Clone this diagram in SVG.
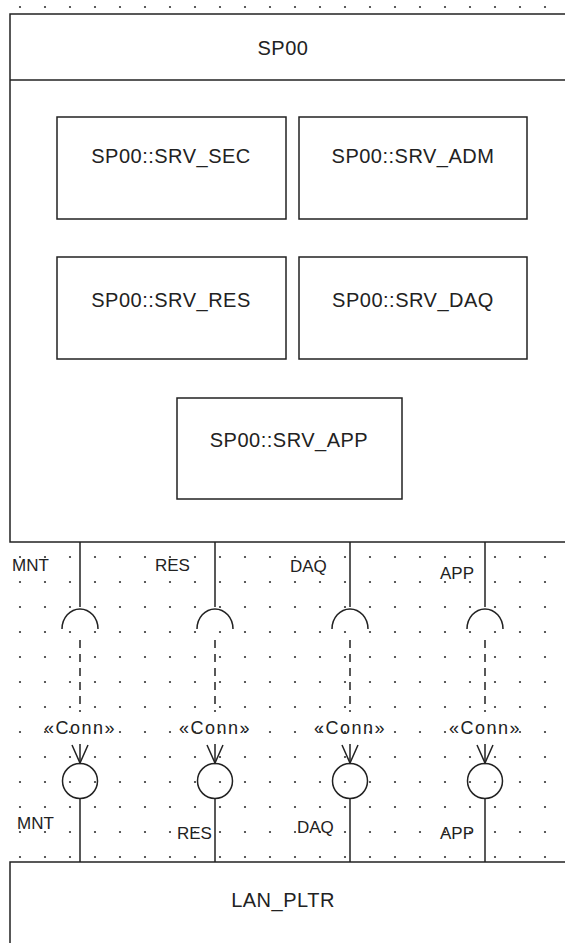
<svg xmlns="http://www.w3.org/2000/svg" width="565" height="943" viewBox="0 0 565 943">
<style>
.box{fill:none;stroke:#222;stroke-width:1.5}
.part{fill:#fff;stroke:#222;stroke-width:1.5}
.t{font-family:"Liberation Sans",Arial,sans-serif;font-size:20px;fill:#222;text-anchor:middle;letter-spacing:0.5px}
.lbl{font-family:"Liberation Sans",Arial,sans-serif;font-size:17px;fill:#222}
.st{font-family:"Liberation Sans",Arial,sans-serif;font-size:18px;fill:#222;text-anchor:middle;letter-spacing:1.5px}
.ln{fill:none;stroke:#222;stroke-width:1.5}
.dash{fill:none;stroke:#222;stroke-width:1.5;stroke-dasharray:8 6}
</style>
<defs>
<pattern id="grid" x="0" y="0" width="25" height="25" patternUnits="userSpaceOnUse">
<circle cx="20" cy="7" r="1.1" fill="#333"/>
</pattern>
</defs>
<rect width="565" height="943" fill="#fff"/>
<rect x="0" y="0" width="565" height="12" fill="url(#grid)"/>
<rect x="0" y="545" width="565" height="315" fill="url(#grid)"/>

<g id="SP00">
<rect class="box" x="10" y="14" width="600" height="528"/>
<line class="ln" x1="10" y1="80" x2="565" y2="80"/>
<text class="t" x="283" y="55">SP00</text>
</g>
<g id="SRV_SEC">
<rect class="part" x="57" y="117" width="229" height="102"/>
<text class="t" x="171" y="163">SP00::SRV_SEC</text>
</g>
<g id="SRV_ADM">
<rect class="part" x="299" y="117" width="228" height="102"/>
<text class="t" x="413" y="163">SP00::SRV_ADM</text>
</g>
<g id="SRV_RES">
<rect class="part" x="57" y="257" width="229" height="102"/>
<text class="t" x="171" y="307">SP00::SRV_RES</text>
</g>
<g id="SRV_DAQ">
<rect class="part" x="299" y="257" width="228" height="102"/>
<text class="t" x="413" y="307">SP00::SRV_DAQ</text>
</g>
<g id="SRV_APP">
<rect class="part" x="177" y="398" width="225" height="101"/>
<text class="t" x="289" y="447">SP00::SRV_APP</text>
</g>
<g id="LAN_PLTR">
<rect class="box" x="10" y="862" width="600" height="200"/>
<text class="t" x="283" y="907">LAN_PLTR</text>
</g>

<g id="connectors">
<g id="conn-MNT">
<line class="ln" x1="80" y1="542" x2="80" y2="607"/>
<path class="ln" d="M62,629 A18,20 0 0 1 98,629"/>
<line class="dash" x1="80" y1="640" x2="80" y2="712"/>
<line class="ln" x1="80" y1="744" x2="80" y2="763"/>
<path class="ln" d="M72,745 L80,763 L88,745"/>
<circle class="ln" cx="80" cy="781" r="17.5"/>
<line class="ln" x1="80" y1="798" x2="80" y2="862"/>
</g>
<g id="conn-RES">
<line class="ln" x1="215" y1="542" x2="215" y2="607"/>
<path class="ln" d="M197,629 A18,20 0 0 1 233,629"/>
<line class="dash" x1="215" y1="640" x2="215" y2="712"/>
<line class="ln" x1="215" y1="744" x2="215" y2="763"/>
<path class="ln" d="M207,745 L215,763 L223,745"/>
<circle class="ln" cx="215" cy="781" r="17.5"/>
<line class="ln" x1="215" y1="798" x2="215" y2="862"/>
</g>
<g id="conn-DAQ">
<line class="ln" x1="350" y1="542" x2="350" y2="607"/>
<path class="ln" d="M332,629 A18,20 0 0 1 368,629"/>
<line class="dash" x1="350" y1="640" x2="350" y2="712"/>
<line class="ln" x1="350" y1="744" x2="350" y2="763"/>
<path class="ln" d="M342,745 L350,763 L358,745"/>
<circle class="ln" cx="350" cy="781" r="17.5"/>
<line class="ln" x1="350" y1="798" x2="350" y2="862"/>
</g>
<g id="conn-APP">
<line class="ln" x1="485" y1="542" x2="485" y2="607"/>
<path class="ln" d="M467,629 A18,20 0 0 1 503,629"/>
<line class="dash" x1="485" y1="640" x2="485" y2="712"/>
<line class="ln" x1="485" y1="744" x2="485" y2="763"/>
<path class="ln" d="M477,745 L485,763 L493,745"/>
<circle class="ln" cx="485" cy="781" r="17.5"/>
<line class="ln" x1="485" y1="798" x2="485" y2="862"/>
</g>
<text class="st" x="80" y="734">«Conn»</text>
<text class="st" x="215" y="734">«Conn»</text>
<text class="st" x="350" y="734">«Conn»</text>
<text class="st" x="485" y="734">«Conn»</text>
<text class="lbl" x="12" y="571">MNT</text>
<text class="lbl" x="155" y="571">RES</text>
<text class="lbl" x="290" y="572">DAQ</text>
<text class="lbl" x="440" y="579">APP</text>
<text class="lbl" x="17" y="829">MNT</text>
<text class="lbl" x="177" y="839">RES</text>
<text class="lbl" x="297" y="833">DAQ</text>
<text class="lbl" x="440" y="839">APP</text>
</g>
</svg>
